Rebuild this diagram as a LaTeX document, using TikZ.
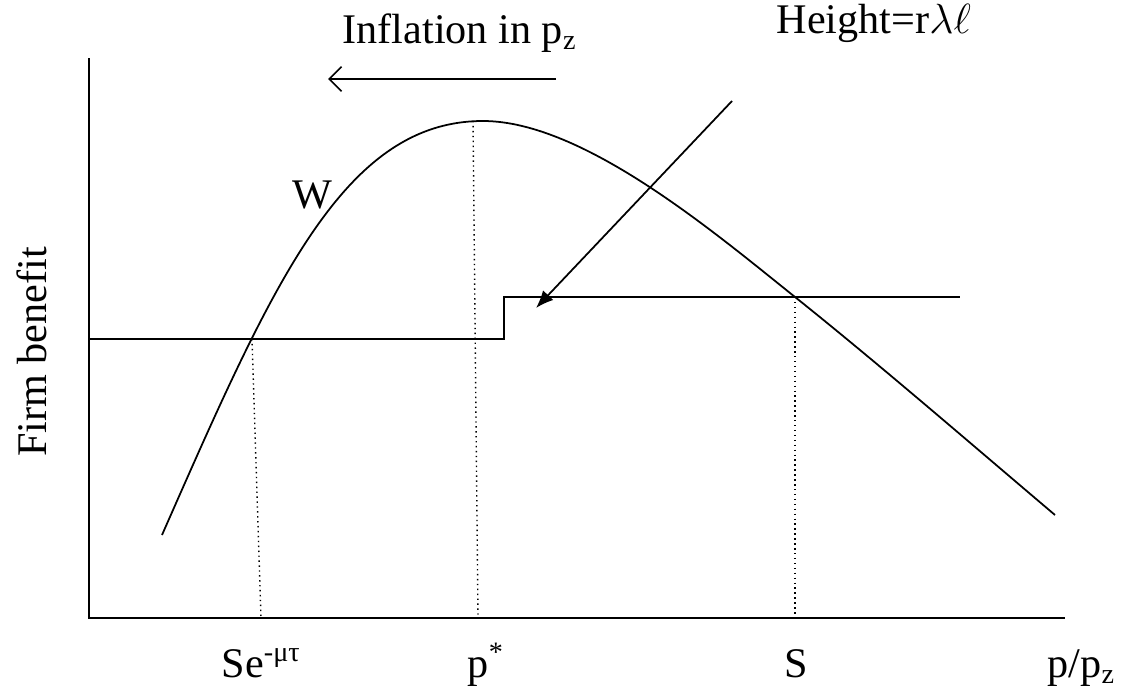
\documentclass[tikz,border=0pt]{standalone}
\usepackage{fontspec}
\setmainfont{Liberation Serif}
\usetikzlibrary{arrows.meta}

\begin{document}
\begin{tikzpicture}[x=0.01cm, y=-0.01cm, font=\fontsize{12}{14}\selectfont,
    lbl/.style={inner sep=0pt, anchor=base west},
    guide/.style={densely dotted, line width=0.4pt}]
    \useasboundingbox (0,0) rectangle (1122,694);

    % axes
    \coordinate (orig) at (89,618);
    \coordinate (ytop) at (89,58);
    \coordinate (xend) at (1065,618);
    \draw[line width=0.8pt] (ytop) -- (orig) -- (xend);

    % threshold with jump
    \coordinate (lowstart) at (89,339);
    \coordinate (jump) at (504,339);
    \coordinate (highend) at (960,297);
    \draw[line width=0.8pt] (lowstart) -- (jump) |- (highend);

    % W curve
    \coordinate (wstart) at (162,535);
    \coordinate (wpeak) at (483,121);
    \coordinate (wcross) at (795,297);
    \coordinate (wend) at (1055,515);
    \draw[line width=0.5pt] (wstart)
        .. controls (272,285) and (343,121) .. (wpeak)
        .. controls (583,121) and (715,233) .. (wcross)
        .. controls (880,365) and (970,443) .. (wend);

    % dotted guides
    \coordinate (semtop) at (252,339);
    \coordinate (sembot) at (261,618);
    \coordinate (psttop) at (473,121);
    \coordinate (pstbot) at (478,618);
    \coordinate (sbot) at (795,618);
    \draw[guide] (semtop) -- (sembot);
    \draw[guide] (psttop) -- (pstbot);
    \draw[guide] (wcross) -- (sbot);

    % arrows
    \coordinate (inflR) at (556,79);
    \coordinate (inflL) at (328,79);
    \draw[line width=0.5pt, -{Straight Barb[length=3.5pt,width=7pt]}] (inflR) -- (inflL);
    \coordinate (hgtfrom) at (732,101);
    \coordinate (hgtto) at (536,308);
    \draw[line width=0.5pt, -{Latex[length=5pt,width=4pt]}] (hgtfrom) -- (hgtto);

    % labels
    \node[lbl] (infl) at (342,43) {Inflation in p\textsubscript{z}};
    \node[lbl] (height) at (776,34) {Height=r$\lambda\ell$};
    \node[lbl] (wlab) at (292,208) {W};
    \node[rotate=90, inner sep=0pt, anchor=base] (ylab) at (46,352) {Firm benefit};
    \node[lbl] (sem) at (221,677) {Se\textsuperscript{-μτ}};
    \node[lbl] (pstar) at (467,677) {p\textsuperscript{*}};
    \node[lbl] (slab) at (784,677) {S};
    \node[lbl] (ratio) at (1047,677) {p/p\textsubscript{z}};
\end{tikzpicture}
\end{document}
